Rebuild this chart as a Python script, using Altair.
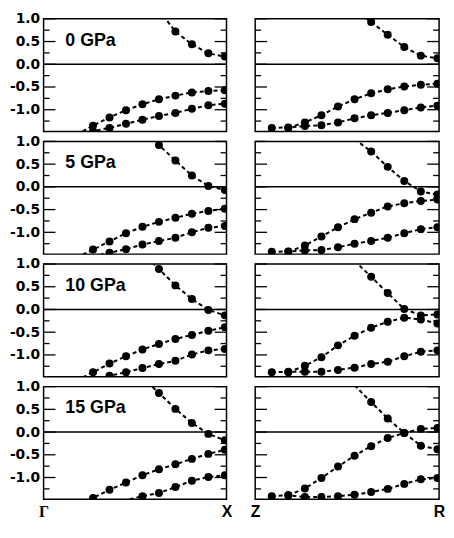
import altair as alt
import pandas as pd

# k-point index along the path (0 = Gamma / Z, 11 = X / R)
pressures = ["0 GPa", "5 GPa", "10 GPa", "15 GPa"]

# each band: (start index, values)
left_up = [(7, [1.19, 0.72, 0.44, 0.24, 0.17]),
           (6, [1.30, 0.92, 0.58, 0.25, 0.02, -0.07]),
           (6, [1.25, 0.89, 0.53, 0.23, -0.01, -0.13]),
           (6, [1.20, 0.86, 0.51, 0.20, -0.04, -0.18])]
left_mid = [(2, [-1.55, -1.35, -1.17, -1.01, -0.88, -0.77, -0.69, -0.62, -0.59, -0.57]),
            (2, [-1.56, -1.38, -1.20, -1.02, -0.88, -0.77, -0.68, -0.59, -0.53, -0.48]),
            (2, [-1.56, -1.38, -1.19, -1.03, -0.88, -0.76, -0.65, -0.56, -0.47, -0.39]),
            (2, [-1.63, -1.45, -1.27, -1.11, -0.95, -0.82, -0.71, -0.59, -0.48, -0.39])]
left_low = [(2, [-1.56, -1.47, -1.40, -1.31, -1.22, -1.14, -1.07, -0.98, -0.90, -0.87]),
            (3, [-1.53, -1.45, -1.37, -1.27, -1.19, -1.12, -1.00, -0.90, -0.86]),
            (3, [-1.54, -1.46, -1.38, -1.29, -1.20, -1.13, -0.99, -0.90, -0.87]),
            (4, [-1.59, -1.50, -1.41, -1.34, -1.21, -1.07, -0.99, -0.95])]
right_up = [(6, [1.20, 0.93, 0.65, 0.38, 0.19, 0.13]),
            (6, [1.05, 0.78, 0.44, 0.13, -0.10, -0.17]),
            (6, [1.07, 0.72, 0.36, 0.01, -0.13, -0.11]),
            (6, [1.03, 0.66, 0.30, -0.02, -0.30, -0.38])]
right_mid = [(2, [-1.40, -1.28, -1.12, -0.93, -0.77, -0.64, -0.55, -0.49, -0.45, -0.43]),
             (2, [-1.43, -1.29, -1.09, -0.89, -0.71, -0.57, -0.43, -0.36, -0.31, -0.28]),
             (2, [-1.38, -1.24, -1.05, -0.79, -0.58, -0.40, -0.27, -0.18, -0.22, -0.31]),
             (2, [-1.39, -1.24, -1.01, -0.76, -0.52, -0.31, -0.13, -0.02, 0.07, 0.09])]
right_low = [(1, [-1.40, -1.39, -1.36, -1.34, -1.28, -1.19, -1.12, -1.07, -1.01, -0.95, -0.91]),
             (1, [-1.43, -1.42, -1.40, -1.39, -1.33, -1.25, -1.19, -1.12, -1.02, -0.93, -0.89]),
             (1, [-1.38, -1.37, -1.37, -1.37, -1.33, -1.28, -1.20, -1.15, -1.03, -0.93, -0.90]),
             (1, [-1.41, -1.39, -1.43, -1.43, -1.41, -1.38, -1.32, -1.25, -1.14, -1.04, -1.01])]

major_ticks = [-1.0, -0.5, 0.0, 0.5, 1.0]
minor_ticks = [-1.25, -0.75, -0.25, 0.25, 0.75]
x_labels = {"L": ("Γ", "X"), "R": ("Z", "R")}

XMAX = 11.1
YMIN, YMAX = -1.48, 1.0
H = 114


def band_frame(bands):
    rows = []
    for name, (start, vals) in bands.items():
        for i, v in enumerate(vals):
            rows.append({"band": name, "k": start + i, "e": v})
    return pd.DataFrame(rows)


def panel(r, side, show_y, show_x):
    W = 185 if side == "L" else 186
    if side == "L":
        bands = {"up": left_up[r], "mid": left_mid[r], "low": left_low[r]}
    else:
        bands = {"up": right_up[r], "mid": right_mid[r], "low": right_low[r]}
    df = band_frame(bands)

    xs = alt.Scale(domain=[0, XMAX], nice=False, zero=False)
    ys = alt.Scale(domain=[YMIN, YMAX], nice=False, zero=False)

    if show_y:
        yaxis = alt.Axis(values=major_ticks, ticks=False, domain=False, grid=False,
                         labelExpr="(datum.value < 0 ? '-' : '') + format(abs(datum.value), '.1f')",
                         labelFont="DejaVu Sans", labelFontWeight="bold", labelFontSize=14,
                         labelColor="black", labelPadding=4, title=None)
    else:
        yaxis = None
    if show_x:
        a, b = x_labels[side]
        font_expr = ("datum.value < 1 ? 'Liberation Serif' : 'Liberation Sans'"
                     if side == "L" else "'Liberation Sans'")
        xaxis = alt.Axis(values=[0, XMAX], ticks=False, domain=False, grid=False,
                         labelExpr=f"datum.value < 1 ? '{a}' : '{b}'",
                         labelFont={"expr": font_expr},
                         labelFontWeight="bold", labelFontSize=16, labelColor="black",
                         labelPadding=4, labelFlush=False, labelOverlap=False, title=None)
    else:
        xaxis = None

    base = alt.Chart(df)
    x = alt.X("k:Q", scale=xs, axis=xaxis)
    y = alt.Y("e:Q", scale=ys, axis=yaxis)

    line = base.mark_line(color="black", strokeDash=[4, 3], strokeWidth=2, clip=True).encode(
        x=x, y=y, detail="band:N", order="k:Q")
    pts = base.transform_filter(f"datum.e >= {YMIN} && datum.e <= {YMAX}").mark_circle(
        size=65, color="black", opacity=1, clip=True).encode(x=x, y=y)

    tdf_major = pd.DataFrame({"t": major_ticks})
    tdf_minor = pd.DataFrame({"t": minor_ticks})
    ty = alt.Y("t:Q", scale=ys, axis=yaxis)
    tick_layers = [
        alt.Chart(tdf_major).mark_rule(color="black", strokeWidth=1.3).encode(
            y=ty, x=alt.value(0), x2=alt.value(12)),
        alt.Chart(tdf_minor).mark_rule(color="black", strokeWidth=1.3).encode(
            y=ty, x=alt.value(0), x2=alt.value(6)),
        alt.Chart(tdf_major).mark_rule(color="black", strokeWidth=1.3).encode(
            y=ty, x=alt.value(W - 12), x2=alt.value(W)),
        alt.Chart(tdf_minor).mark_rule(color="black", strokeWidth=1.3).encode(
            y=ty, x=alt.value(W - 6), x2=alt.value(W)),
    ]
    zero = alt.Chart(tdf_major).transform_filter("datum.t == 0").mark_rule(
        color="black", strokeWidth=1.5).encode(y=ty, x=alt.value(0), x2=alt.value(W))

    layers = [zero] + tick_layers + [line, pts]
    if side == "L":
        lab = alt.Chart(pd.DataFrame({"p": [pressures[r]]})).mark_text(
            align="left", baseline="middle", font="Liberation Sans", fontWeight="bold",
            fontSize=18, color="black").encode(text="p:N", x=alt.value(22), y=alt.value(22))
        layers.append(lab)
    return alt.layer(*layers).properties(width=W, height=H)


panels = []
for r in range(4):
    last = r == 3
    panels.append(panel(r, "L", True, last))
    panels.append(panel(r, "R", False, last))

chart = alt.concat(*panels, columns=2, spacing={"row": 10, "column": 29}, bounds="flush").properties(
    padding={"left": 0, "top": 0, "right": 0, "bottom": 0},
    background="white",
).configure_view(stroke="black", strokeWidth=1.5)

chart.save("out.html", embed_options={"renderer": "svg", "actions": False})
